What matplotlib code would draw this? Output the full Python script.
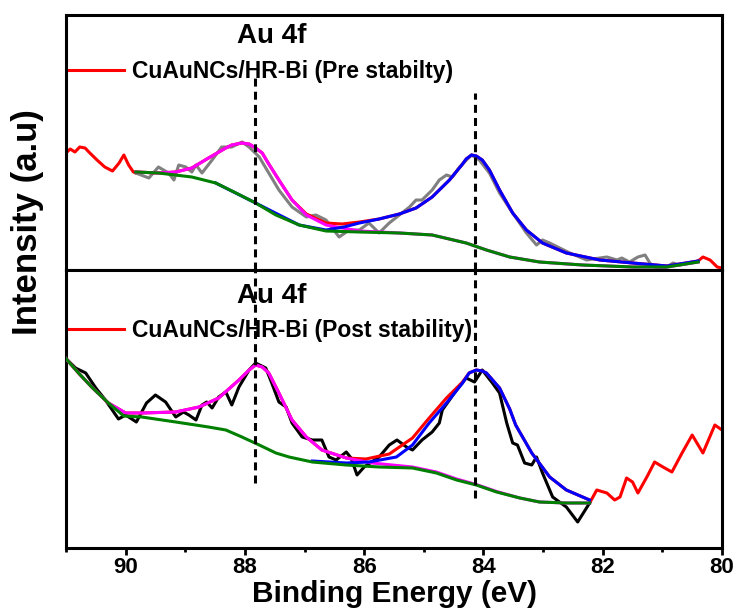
import matplotlib
matplotlib.use('Agg')
import matplotlib.pyplot as plt
from matplotlib.lines import Line2D
from matplotlib.ticker import MultipleLocator

# ---- data (binding energy in eV, intensity in a.u.) ----
# top panel: pre stability
top_raw_left_E = [91.00, 90.93, 90.85, 90.77, 90.68, 90.60, 90.48, 90.35, 90.22, 90.11, 90.03, 89.95, 89.87]
top_raw_left_I = [117, 121, 118, 123, 122, 117, 110, 103, 99, 107, 115, 105, 98]
top_data_E = [89.83, 89.61, 89.45, 89.28, 89.19, 89.11, 88.99, 88.89, 88.82, 88.72, 88.55, 88.39, 88.22, 88.05,
              87.93, 87.76, 87.60, 87.43, 87.21, 86.97, 86.81, 86.64, 86.42, 86.25, 86.08, 85.92, 85.75, 85.58,
              85.41, 85.24, 85.13, 85.03, 84.86, 84.74, 84.62, 84.52, 84.40, 84.20, 84.07, 83.90, 83.73, 83.51,
              83.28, 83.11, 83.01, 82.89, 82.72, 82.55, 82.27, 82.05, 81.93, 81.76, 81.68, 81.55, 81.41, 81.29,
              81.21, 81.09, 80.99, 80.82, 80.71, 80.54, 80.40]
top_data_I = [97, 92, 103, 97, 90, 105, 103, 98, 105, 97, 110, 123, 123, 128,
              123, 113, 97, 80, 63, 53, 55, 50, 33, 40, 40, 47, 37, 47,
              55, 63, 70, 70, 80, 90, 95, 93, 103, 115, 110, 97, 77, 57,
              37, 25, 30, 27, 22, 17, 10, 12, 13, 10, 12, 8, 13, 15,
              7, 1, 1, 7, 5, 7, 9]
top_raw_right_E = [80.32, 80.20, 80.08, 80.00]
top_raw_right_I = [13, 10, 3, 2]

top_env_E = [89.83, 89.45, 89.16, 88.89, 88.61, 88.32, 88.22, 88.05, 87.93, 87.82, 87.71, 87.60, 87.43, 87.21,
             86.97, 86.64, 86.37, 86.08, 85.75, 85.41, 85.13, 84.86, 84.57, 84.35, 84.29, 84.20, 84.12, 84.02,
             83.90, 83.73, 83.51, 83.28, 83.01, 82.61, 82.05, 81.50, 80.92, 80.40]
top_env_I = [98, 97, 98, 102, 112, 122, 125, 127, 126, 122, 117, 106, 90, 70,
             56, 47, 46, 48, 51, 56, 62, 73, 90, 106, 111, 115, 114, 110,
             100, 80, 57, 40, 27, 17, 10, 7, 4, 9]
top_p1_E = [89.83, 89.45, 89.16, 88.89, 88.61, 88.32, 88.22, 88.05, 87.93, 87.82, 87.71, 87.60, 87.43, 87.21,
            86.97, 86.64, 86.37, 86.08, 85.41, 84.86, 84.29, 83.95, 83.56, 83.06, 82.34, 81.50, 80.92, 80.40]
top_p1_I = [98, 97, 98, 102, 112, 122, 125, 127, 126, 122, 117, 106, 90, 70,
            55, 45, 42, 39, 37, 35, 27, 20, 13, 8, 5, 3, 3, 8]
top_p2_E = [88.49, 87.82, 87.09, 86.64, 86.34, 86.08, 85.75, 85.41, 85.13, 84.86, 84.57, 84.35, 84.29, 84.20,
            84.12, 84.02, 83.90, 83.73, 83.51, 83.28, 83.01, 82.61, 82.05, 81.50, 80.92, 80.40]
top_p2_I = [87, 67, 45, 40, 43, 47, 51, 56, 62, 73, 90, 106, 111, 115,
            114, 110, 100, 80, 57, 40, 27, 17, 10, 7, 4, 9]
top_bg_E = [89.83, 89.45, 88.89, 88.49, 88.15, 87.82, 87.48, 87.09, 86.64, 86.08, 85.41, 84.86, 84.29, 83.95,
            83.56, 83.06, 82.34, 81.50, 80.92, 80.40]
top_bg_I = [98, 97, 93, 87, 77, 67, 55, 45, 39, 38, 37, 35, 27, 20,
            13, 8, 5, 3, 3, 8]

# bottom panel: post stability
bot_data_E = [91.01, 90.84, 90.67, 90.50, 90.34, 90.12, 90.00, 89.82, 89.65, 89.50, 89.33, 89.16, 89.03, 88.94,
              88.82, 88.72, 88.64, 88.55, 88.44, 88.32, 88.22, 88.10, 87.93, 87.82, 87.65, 87.55, 87.43, 87.31,
              87.21, 87.04, 86.87, 86.71, 86.59, 86.47, 86.30, 86.22, 86.12, 86.00, 85.75, 85.58, 85.45, 85.29,
              85.19, 85.03, 84.86, 84.74, 84.69, 84.57, 84.45, 84.29, 84.15, 84.02, 83.85, 83.73, 83.61, 83.51,
              83.43, 83.31, 83.19, 83.11, 83.01, 82.84, 82.61, 82.42, 82.22]
bot_data_I = [190, 180, 175, 160, 148, 129, 133, 126, 145, 153, 146, 131, 136, 133,
              128, 143, 146, 140, 151, 156, 143, 161, 178, 185, 180, 165, 146, 141,
              125, 111, 108, 108, 91, 88, 96, 90, 73, 81, 91, 103, 108, 101,
              98, 108, 116, 125, 138, 148, 158, 170, 166, 178, 165, 155, 125, 105,
              103, 85, 83, 91, 75, 51, 41, 26, 45]
bot_raw_right_E = [82.10, 81.93, 81.80, 81.71, 81.60, 81.50, 81.41, 81.26, 81.13, 80.99, 80.84, 80.67, 80.50,
                   80.32, 80.12, 80.00]
bot_raw_right_I = [58, 55, 48, 51, 70, 66, 55, 71, 86, 81, 76, 95, 113, 95, 123, 118]

bot_env_E = [91.01, 90.79, 90.57, 90.29, 90.00, 89.73, 89.16, 88.77, 88.44, 88.10, 87.93, 87.82, 87.71, 87.60,
             87.43, 87.21, 86.97, 86.71, 86.30, 85.97, 85.58, 85.19, 84.91, 84.62, 84.35, 84.24, 84.12, 84.02,
             83.95, 83.73, 83.56, 83.46, 83.19, 82.89, 82.61, 82.22]
bot_env_I = [190, 175, 161, 145, 135, 135, 136, 141, 150, 168, 178, 183, 181, 175,
             155, 128, 111, 98, 90, 89, 94, 110, 130, 150, 166, 175, 178, 177,
             175, 160, 139, 123, 95, 71, 58, 48]
bot_p1_E = [91.01, 90.79, 90.57, 90.29, 90.00, 89.73, 89.16, 88.77, 88.44, 88.10, 87.93, 87.82, 87.71, 87.60,
            87.43, 87.21, 86.97, 86.71, 86.30, 85.87, 85.19, 84.79, 84.45, 84.12, 83.78, 83.39, 83.06, 82.61, 82.22]
bot_p1_I = [190, 175, 161, 145, 135, 135, 136, 141, 150, 168, 178, 183, 181, 175,
            155, 128, 111, 98, 90, 85, 81, 76, 69, 63.5, 56.5, 50, 46, 45, 45]
bot_p2_E = [86.87, 86.30, 85.92, 85.46, 85.19, 84.91, 84.62, 84.35, 84.24, 84.12, 84.02, 83.95, 83.73, 83.56,
            83.46, 83.19, 82.89, 82.61, 82.22]
bot_p2_I = [87, 85, 86, 91, 103, 125, 145, 165, 175, 178, 177, 175, 160, 139, 123, 95, 71, 58, 48]
bot_bg_E = [91.01, 90.79, 90.57, 90.29, 90.03, 89.73, 89.16, 88.61, 88.32, 88.05, 87.76, 87.48, 87.26, 86.87,
            86.30, 85.75, 85.19, 84.79, 84.45, 84.12, 83.78, 83.39, 83.06, 82.61, 82.22]
bot_bg_I = [190, 175, 161, 145, 132, 131, 126, 121, 118, 111, 103, 95, 91, 86,
            83, 81, 80, 75, 68, 63, 56, 50, 46, 45, 45]

peak_pos = [87.83, 84.15]
xticks = [90, 88, 86, 84, 82, 80]
labels = ['CuAuNCs/HR-Bi (Pre stabilty)', 'CuAuNCs/HR-Bi (Post stability)']

plt.rcParams['font.family'] = 'Liberation Sans'
plt.rcParams['font.weight'] = 'bold'

fig = plt.figure(figsize=(7.4, 6.11), dpi=100)
ax1 = fig.add_axes([66 / 740, 1 - 270 / 611, 656 / 740, 255 / 611])
ax2 = fig.add_axes([66 / 740, 1 - 548 / 611, 656 / 740, 278 / 611])

lw = 2.2
dash = (0, (2.6, 1.7))
red, grey, mag, blue, green = '#ff0000', '#808080', '#ff00ff', '#0000ff', '#008000'

# top panel: raw ends in red, fitted region in grey
ax1.plot(top_raw_left_E + top_data_E[:1], top_raw_left_I + top_data_I[:1], c=red, lw=lw, zorder=1)
ax1.plot(top_data_E[-1:] + top_raw_right_E, top_data_I[-1:] + top_raw_right_I, c=red, lw=lw, zorder=1)
ax1.plot(top_data_E, top_data_I, c=grey, lw=lw, zorder=2)
ax1.plot(top_env_E, top_env_I, c=red, lw=lw, zorder=3)
ax1.plot(top_p1_E, top_p1_I, c=mag, lw=lw, zorder=4)
ax1.plot(top_p2_E, top_p2_I, c=blue, lw=lw, zorder=5)
ax1.plot(top_bg_E, top_bg_I, c=green, lw=lw, zorder=6)
ax1.axvline(peak_pos[0], ymin=0, ymax=0.753, c='k', lw=lw, ls=dash, zorder=7)
ax1.axvline(peak_pos[1], ymin=0, ymax=0.694, c='k', lw=lw, ls=dash, zorder=7)
ax1.set_ylim(0, 255)

# bottom panel
ax2.plot(bot_data_E[-1:] + bot_raw_right_E, bot_data_I[-1:] + bot_raw_right_I, c=red, lw=lw, zorder=1)
ax2.plot(bot_data_E, bot_data_I, c='k', lw=lw, zorder=2)
ax2.plot(bot_env_E, bot_env_I, c=red, lw=lw, zorder=3)
ax2.plot(bot_p1_E, bot_p1_I, c=mag, lw=lw, zorder=4)
ax2.plot(bot_p2_E, bot_p2_I, c=blue, lw=lw, zorder=5)
ax2.plot(bot_bg_E, bot_bg_I, c=green, lw=lw, zorder=6)
ax2.axvline(peak_pos[0], ymin=0.234, ymax=1, c='k', lw=lw, ls=dash, zorder=7)
ax2.axvline(peak_pos[1], ymin=0.18, ymax=1, c='k', lw=lw, ls=dash, zorder=7)
ax2.set_ylim(0, 278)

for ax, lab, ty, ly in [(ax1, labels[0], 0.890, 0.780), (ax2, labels[1], 0.881, 0.781)]:
    ax.set_xlim(91, 80)
    for s in ax.spines.values():
        s.set_linewidth(2.2)
    ax.set_yticks([])
    ax.text(87.55, ty, 'Au 4f', transform=ax.get_xaxis_transform(), ha='center', va='baseline',
            fontsize=20, fontweight='bold')
    h = Line2D([], [], c=red, lw=lw)
    ax.legend([h], [lab], loc='center left', bbox_to_anchor=(0.0046, ly), frameon=False,
              borderpad=0, borderaxespad=0, handlelength=2.4, handletextpad=0.35,
              prop={'weight': 'bold', 'size': 16.5})

ax1.set_xticks([])
ax2.set_xticks(xticks)
ax2.xaxis.set_minor_locator(MultipleLocator(1))
ax2.tick_params(axis='x', which='major', direction='out', length=5, width=2, labelsize=16, pad=1.5)
ax2.tick_params(axis='x', which='minor', direction='out', length=3, width=2)

fig.text(394 / 740, 1 - 602 / 611, 'Binding Energy (eV)', ha='center', va='baseline',
         fontsize=21.5, fontweight='bold')
fig.text(28 / 740, 1 - 222 / 611, 'Intensity (a.u)', rotation=90, ha='center', va='center',
         fontsize=25, fontweight='bold')

fig.savefig('out.png', dpi=100)
